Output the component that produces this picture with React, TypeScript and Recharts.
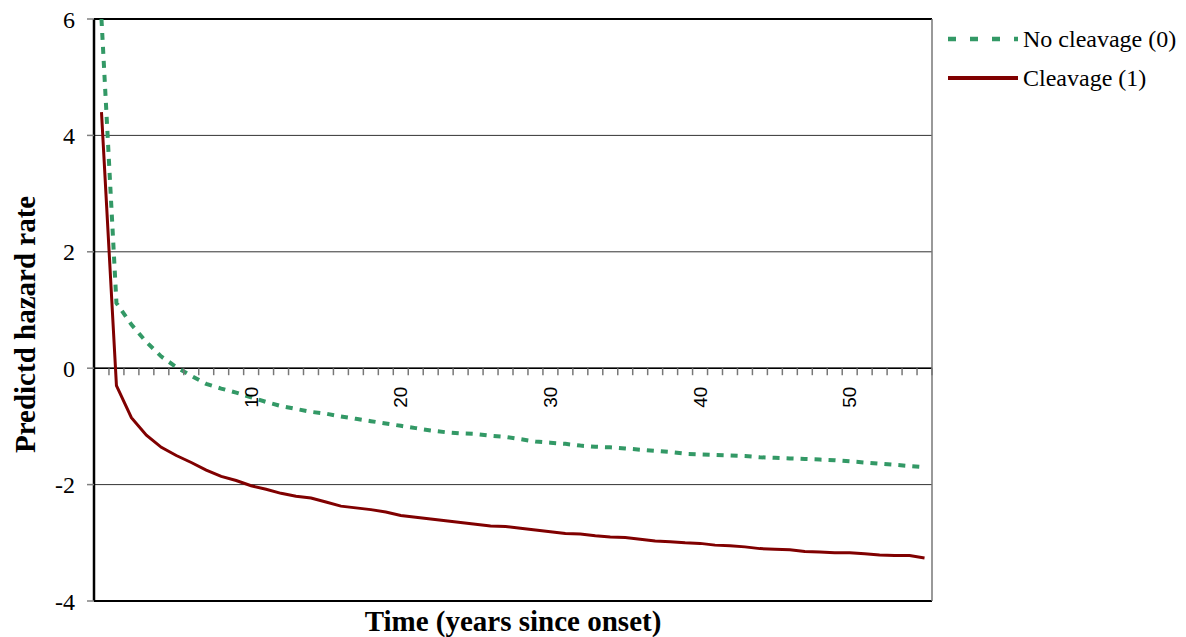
import React from 'react';
import { LineChart, Line, XAxis, YAxis, CartesianGrid, ReferenceLine, Label } from 'recharts';

// years since onset (one category per year)
const YEARS = [
  0, 1, 2, 3, 4, 5, 6, 7, 8, 9, 10, 11, 12, 13, 14, 15, 16, 17, 18, 19,
  20, 21, 22, 23, 24, 25, 26, 27, 28, 29, 30, 31, 32, 33, 34, 35, 36, 37, 38, 39,
  40, 41, 42, 43, 44, 45, 46, 47, 48, 49, 50, 51, 52, 53, 54, 55,
];

const NO_CLEAVAGE = [
  6.0, 1.12, 0.75, 0.45, 0.2, 0.02, -0.13, -0.27, -0.35, -0.42,
  -0.5, -0.58, -0.65, -0.7, -0.75, -0.78, -0.83, -0.87, -0.91, -0.95,
  -0.99, -1.03, -1.07, -1.1, -1.12, -1.13, -1.16, -1.18, -1.22, -1.26,
  -1.28, -1.3, -1.33, -1.35, -1.36, -1.38, -1.4, -1.42, -1.44, -1.47,
  -1.48, -1.49, -1.5, -1.51, -1.53, -1.54, -1.55, -1.56, -1.57, -1.58,
  -1.6, -1.62, -1.64, -1.66, -1.68, -1.7,
];

const CLEAVAGE = [
  4.4, -0.3, -0.85, -1.15, -1.36, -1.5, -1.62, -1.75, -1.86, -1.93,
  -2.02, -2.08, -2.15, -2.2, -2.23, -2.3, -2.37, -2.4, -2.43, -2.47,
  -2.53, -2.56, -2.59, -2.62, -2.65, -2.68, -2.71, -2.72, -2.75, -2.78,
  -2.81, -2.84, -2.85, -2.88, -2.9, -2.91, -2.94, -2.97, -2.98, -3.0,
  -3.01, -3.04, -3.05, -3.07, -3.1, -3.11, -3.12, -3.15, -3.16, -3.17,
  -3.17, -3.19, -3.21, -3.22, -3.22, -3.26,
];

const Y_TICKS = [-4, -2, 0, 2, 4, 6];
const X_LABELS = [10, 20, 30, 40, 50];

const SERIES = [
  { key: 'noCleavage', name: 'No cleavage (0)', color: '#339966', dash: '7 7', width: 4 },
  { key: 'cleavage', name: 'Cleavage (1)', color: '#800000', dash: undefined, width: 3 },
];

const W = 1170;
const H = 629;
const M = { top: 11, right: 246, bottom: 0, left: 0 };
const Y_AXIS_W = 86;
const X_AXIS_H = 36;
const PLOT_W = W - M.left - M.right - Y_AXIS_W;
const PLOT_H = H - M.top - M.bottom - X_AXIS_H;
const Y_MIN = -4;
const Y_MAX = 6;
// the category axis sits on the zero line, not on the bottom of the plot
const ZERO_UP = (PLOT_H * (0 - Y_MIN)) / (Y_MAX - Y_MIN);
const HALF = PLOT_W / YEARS.length / 2;

const SERIF = '"Liberation Serif", "Times New Roman", serif';

const data = YEARS.map((t, i) => ({ t, noCleavage: NO_CLEAVAGE[i], cleavage: CLEAVAGE[i] }));

function TimeTick(props: any) {
  const { x, y, payload } = props;
  const y0 = y - ZERO_UP;
  const v = payload.value;
  const ly = y0 + 29;
  return (
    <g>
      <line x1={x + HALF} x2={x + HALF} y1={y0} y2={y0 + 7} stroke="#777" strokeWidth={1.5} />
      {X_LABELS.includes(v) && (
        <text
          x={x}
          y={ly}
          dy="0.35em"
          textAnchor="middle"
          transform={`rotate(-90 ${x} ${ly})`}
          fontFamily='"Liberation Sans", Arial, sans-serif'
          fontSize={19}
          fill="#000"
        >
          {v}
        </text>
      )}
    </g>
  );
}

function HazardTick(props: any) {
  const { x, y, payload } = props;
  return (
    <text x={x} y={y} dy="0.36em" textAnchor="end" fontFamily={SERIF} fontSize={24} fill="#000">
      {payload.value}
    </text>
  );
}

export default function App() {
  return (
    <div style={{ position: 'relative', width: W, height: H }}>
      <LineChart width={W} height={H} data={data} margin={M}>
        <CartesianGrid horizontal vertical={false} stroke="#333" />
        <XAxis
          dataKey="t"
          type="number"
          domain={[-0.5, 55.5]}
          ticks={YEARS}
          interval={0}
          height={X_AXIS_H}
          axisLine={false}
          tickLine={false}
          tickSize={0}
          tickMargin={0}
          tick={<TimeTick />}
        >
          <Label
            content={() => (
              <text x={505} y={623} textAnchor="middle" fontFamily={SERIF} fontWeight="bold" fontSize={29} fill="#000">
                Time (years since onset)
              </text>
            )}
          />
        </XAxis>
        <YAxis
          type="number"
          domain={[Y_MIN, Y_MAX]}
          ticks={Y_TICKS}
          width={Y_AXIS_W}
          tickSize={7}
          tickMargin={12}
          axisLine={{ stroke: '#000', strokeWidth: 2.5 }}
          tickLine={{ stroke: '#808080', strokeWidth: 1.5 }}
          tick={<HazardTick />}
        >
          <Label
            content={() => (
              <text
                x={27}
                y={445}
                transform="rotate(-90 27 445)"
                textAnchor="start"
                fontFamily={SERIF}
                fontWeight="bold"
                fontSize={29}
                fill="#000"
              >
                Predictd hazard rate
              </text>
            )}
          />
        </YAxis>
        <ReferenceLine y={0} stroke="#000" strokeWidth={1.5} />
        <ReferenceLine y={Y_MAX} stroke="#000" strokeWidth={2} />
        <ReferenceLine y={Y_MIN} stroke="#000" strokeWidth={2} />
        <ReferenceLine x={55.5} stroke="#777" strokeWidth={1.5} />
        {SERIES.map((s) => (
          <Line
            key={s.key}
            type="linear"
            dataKey={s.key}
            name={s.name}
            stroke={s.color}
            strokeWidth={s.width}
            strokeDasharray={s.dash}
            dot={false}
            isAnimationActive={false}
          />
        ))}
      </LineChart>
      <svg style={{ position: 'absolute', left: 930, top: 10 }} width={240} height={80}>
        {SERIES.map((s, i) => (
          <g key={s.key}>
            <line
              x1={10}
              x2={80}
              y1={21 + i * 39}
              y2={21 + i * 39}
              stroke={s.color}
              strokeWidth={s.dash ? 4.5 : 4}
              strokeDasharray={s.dash ? '8 14' : undefined}
            />
            <text x={85} y={21 + i * 39} dy="0.35em" fontFamily={SERIF} fontSize={24} fill="#000">
              {s.name}
            </text>
          </g>
        ))}
      </svg>
    </div>
  );
}
